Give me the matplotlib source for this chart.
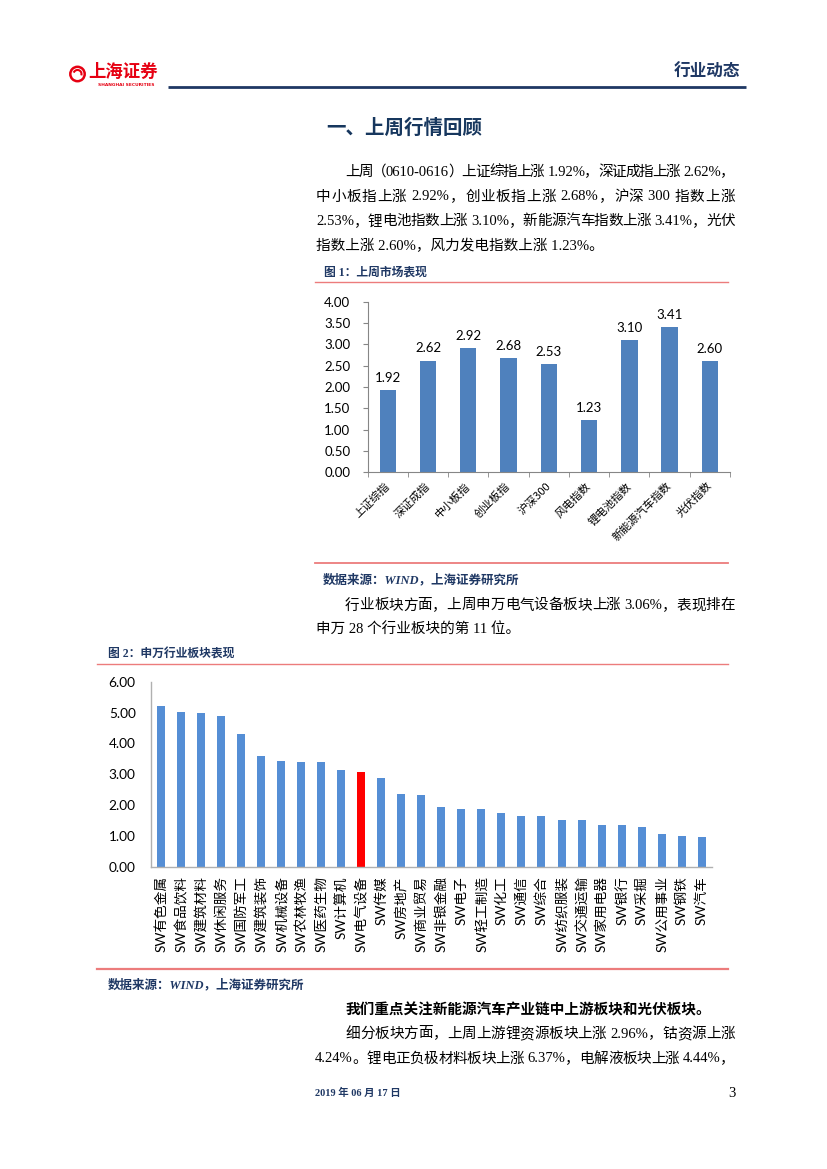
import matplotlib
matplotlib.use('Agg')
import matplotlib.pyplot as plt
from matplotlib.patches import Circle, Arc
import numpy as np

# ---------------- data ----------------
c1_labels = ['上证综指', '深证成指', '中小板指', '创业板指', '沪深300',
             '风电指数', '锂电池指数', '新能源汽车指数', '光伏指数']
c1_values = [1.92, 2.62, 2.92, 2.68, 2.53, 1.23, 3.10, 3.41, 2.60]
c1_yticks = [0.0, 0.5, 1.0, 1.5, 2.0, 2.5, 3.0, 3.5, 4.0]

c2_labels = ['SW有色金属', 'SW食品饮料', 'SW建筑材料', 'SW休闲服务', 'SW国防军工',
             'SW建筑装饰', 'SW机械设备', 'SW农林牧渔', 'SW医药生物', 'SW计算机',
             'SW电气设备', 'SW传媒', 'SW房地产', 'SW商业贸易', 'SW非银金融',
             'SW电子', 'SW轻工制造', 'SW化工', 'SW通信', 'SW综合',
             'SW纺织服装', 'SW交通运输', 'SW家用电器', 'SW银行', 'SW采掘',
             'SW公用事业', 'SW钢铁', 'SW汽车']
c2_values = [5.20, 5.01, 5.00, 4.90, 4.30, 3.59, 3.44, 3.38, 3.38, 3.14,
             3.06, 2.89, 2.37, 2.33, 1.94, 1.88, 1.88, 1.73, 1.65, 1.64,
             1.53, 1.50, 1.36, 1.35, 1.29, 1.07, 0.98, 0.95]
c2_highlight = 'SW电气设备'
c2_yticks = [0, 1, 2, 3, 4, 5, 6]

para1 = ['上周（0610-0616）上证综指上涨 1.92%，深证成指上涨 2.62%，',
         '中小板指上涨 2.92%，创业板指上涨 2.68%，沪深 300 指数上涨',
         '2.53%，锂电池指数上涨 3.10%，新能源汽车指数上涨 3.41%，光伏',
         '指数上涨 2.60%，风力发电指数上涨 1.23%。']
para2 = ['行业板块方面，上周申万电气设备板块上涨 3.06%，表现排在',
         '申万 28 个行业板块的第 11 位。']
para3_bold = '我们重点关注新能源汽车产业链中上游板块和光伏板块。'
para3 = ['细分板块方面，上周上游锂资源板块上涨 2.96%，钴资源上涨',
         '4.24%。锂电正负极材料板块上涨 6.37%，电解液板块上涨 4.44%，']

# ---------------- figure ----------------
W, H = 827, 1169
fig = plt.figure(figsize=(W / 100, H / 100), dpi=100)
bg = fig.add_axes([0, 0, 1, 1])
bg.set_xlim(0, W)
bg.set_ylim(H, 0)
bg.axis('off')

BODY = ['Liberation Serif', 'Noto Sans CJK SC']
SANS = ['Lato', 'Noto Sans CJK SC']
NAVY = '#1F3864'
RED_LINE = '#EC7C7C'

renderer = fig.canvas.get_renderer()


def text_width(s, **kw):
    t = bg.text(0, 0, s + 'x', **kw)
    w1 = t.get_window_extent(renderer).width
    t.set_text('x')
    w2 = t.get_window_extent(renderer).width
    t.remove()
    return w1 - w2


def tokenize(s):
    toks = []
    buf = ''
    for ch in s:
        if ch == ' ':
            if buf:
                buf += ch
            elif toks:
                toks[-1] += ch
            else:
                buf += ch
        elif ord(ch) < 128:
            if buf and buf.endswith(' '):
                toks.append(buf)
                buf = ''
            buf += ch
        else:
            if buf:
                toks.append(buf)
                buf = ''
            toks.append(ch)
    if buf:
        toks.append(buf)
    return toks


def draw_line(s, x0, y, x1=None, **kw):
    if x1 is None:
        bg.text(x0, y, s, ha='left', va='center', **kw)
        return
    toks = tokenize(s)
    starts = []
    prefix = ''
    for tk in toks:
        starts.append(text_width(prefix, **kw) if prefix else 0.0)
        prefix += tk
    total = text_width(s.rstrip(), **kw)
    n = len(toks)
    extra = (x1 - x0 - total) / (n - 1) if n > 1 else 0
    for k, tk in enumerate(toks):
        bg.text(x0 + starts[k] + k * extra, y, tk, ha='left', va='center', **kw)


# ---------------- header ----------------
bg.add_patch(Circle((77.5, 74), 7.2, fill=False, ec='#E60012', lw=1.8))
bg.add_patch(Arc((77.5, 74), 8, 8, theta1=200, theta2=20, ec='#E60012', lw=1.5))
bg.text(88, 71.5, '上海证券', family=['Noto Sans CJK SC'], fontweight='bold',
        fontsize=12.5, color='#E60012', ha='left', va='center')
bg.text(98, 84.5, 'SHANGHAI SECURITIES', family=['DejaVu Sans'], fontweight='bold',
        fontsize=3.2, color='#E60012', ha='left', va='center')
bg.plot([168, 746], [86.8, 86.8], color=NAVY, lw=2.0, solid_capstyle='butt')
bg.text(740, 72, '行业动态', family=['Noto Sans CJK SC'], fontweight='bold',
        fontsize=12, color=NAVY, ha='right', va='center')

# ---------------- title & paragraph 1 ----------------
bg.text(326.7, 128.5, '一、上周行情回顾', family=['Noto Sans CJK SC'], fontweight='bold',
        fontsize=14, color='#17375E', ha='left', va='center')

body_kw = dict(family=BODY, fontsize=10.5, color='black')
ys1 = [172, 197, 221.5, 246]
draw_line(para1[0], 345, ys1[0], 735, **body_kw)
draw_line(para1[1], 316, ys1[1], 735, **body_kw)
draw_line(para1[2], 316, ys1[2], 735, **body_kw)
draw_line(para1[3], 316, ys1[3], None, **body_kw)

# ---------------- figure 1 ----------------
cap_kw = dict(family=BODY, fontsize=8.5, fontweight='bold', color=NAVY,
              ha='left', va='center')
bg.text(324, 273, '图 1：上周市场表现', **cap_kw)
bg.plot([315, 728], [281.7, 281.7], color=RED_LINE, lw=1.0)

ax1 = fig.add_axes([367.7 / W, 1 - 472.3 / H, (730 - 367.7) / W, (472.3 - 301.7) / H])
ax1.set_facecolor('none')
x1 = np.arange(len(c1_labels))
ax1.bar(x1, c1_values, width=0.405, color='#4F81BD', zorder=2)
for xi, v in zip(x1, c1_values):
    ax1.annotate(f'{v:.2f}', (xi, v), xytext=(0, 4.5), textcoords='offset points',
                 ha='center', va='bottom', family=SANS, fontsize=9.5, color='black')
ax1.set_xlim(-0.5, len(c1_labels) - 0.5)
ax1.set_ylim(0, 4)
ax1.set_yticks(c1_yticks)
ax1.set_yticklabels([f'{v:.2f}' for v in c1_yticks], family=SANS, fontsize=9.5)
ax1.set_xticks(x1)
ax1.set_xticklabels(c1_labels, rotation=45, ha='right', va='center',
                    rotation_mode='anchor', family=['Noto Sans CJK SC'], fontsize=8)
ax1.set_xticks(np.arange(-0.5, len(c1_labels)), minor=True)
ax1.tick_params(axis='x', which='major', length=0, pad=8.5)
ax1.tick_params(axis='x', which='minor', length=3.5, color='#868686', direction='out')
ax1.tick_params(axis='y', length=3.5, color='#868686', pad=9)
for s in ['top', 'right']:
    ax1.spines[s].set_visible(False)
for s in ['left', 'bottom']:
    ax1.spines[s].set_color('#868686')
    ax1.spines[s].set_linewidth(0.8)

bg.plot([315, 728], [563.3, 563.3], color=RED_LINE, lw=1.3)
src_kw = dict(family=BODY, fontsize=9, fontweight='bold', style='italic',
              color=NAVY, ha='left', va='center')
bg.text(323, 580.5, '数据来源：WIND，上海证券研究所', **src_kw)

# ---------------- paragraph 2 ----------------
draw_line(para2[0], 345, 605.7, 735, **body_kw)
draw_line(para2[1], 316, 629.5, None, **body_kw)

# ---------------- figure 2 ----------------
bg.text(107.5, 655, '图 2：申万行业板块表现', **cap_kw)
bg.plot([97, 728], [664, 664], color=RED_LINE, lw=1.0)

ax2 = fig.add_axes([151 / W, 1 - 866.7 / H, (711.7 - 151) / W, (866.7 - 681.7) / H])
ax2.set_facecolor('none')
x2 = np.arange(len(c2_labels))
colors2 = ['#FF0000' if l == c2_highlight else '#558ED5' for l in c2_labels]
ax2.bar(x2, c2_values, width=0.4, color=colors2, zorder=2)
ax2.set_xlim(-0.5, len(c2_labels) - 0.5)
ax2.set_ylim(0, 6)
ax2.set_yticks(c2_yticks)
ax2.set_yticklabels([f'{v:.2f}' for v in c2_yticks], family=SANS, fontsize=9.8)
ax2.set_xticks(x2)
ax2.set_xticklabels(c2_labels, rotation=90, ha='center', va='top',
                    family=SANS, fontsize=9.8)
ax2.tick_params(axis='x', length=0, pad=7)
ax2.tick_params(axis='y', length=0, pad=11)
for s in ['top', 'right']:
    ax2.spines[s].set_visible(False)
for s in ['left', 'bottom']:
    ax2.spines[s].set_color('#B0B0B0')
    ax2.spines[s].set_linewidth(1.0)

bg.plot([97, 728], [969.3, 969.3], color=RED_LINE, lw=1.6)
bg.text(107.5, 985.5, '数据来源：WIND，上海证券研究所', **src_kw)

# ---------------- paragraph 3 ----------------
bg.text(345.7, 1010, para3_bold, family=BODY, fontsize=10.5, fontweight='bold',
        color='black', ha='left', va='center')
draw_line(para3[0], 345.7, 1034, 735, **body_kw)
draw_line(para3[1], 315, 1059, 735, **body_kw)

# ---------------- footer ----------------
bg.text(315, 1093.3, '2019 年 06 月 17 日', family=BODY, fontsize=7.5,
        fontweight='bold', color=NAVY, ha='left', va='center')
bg.text(736, 1093.3, '3', family=BODY, fontsize=10.5, color='black',
        ha='right', va='center')

fig.savefig('out.png', dpi=100)
